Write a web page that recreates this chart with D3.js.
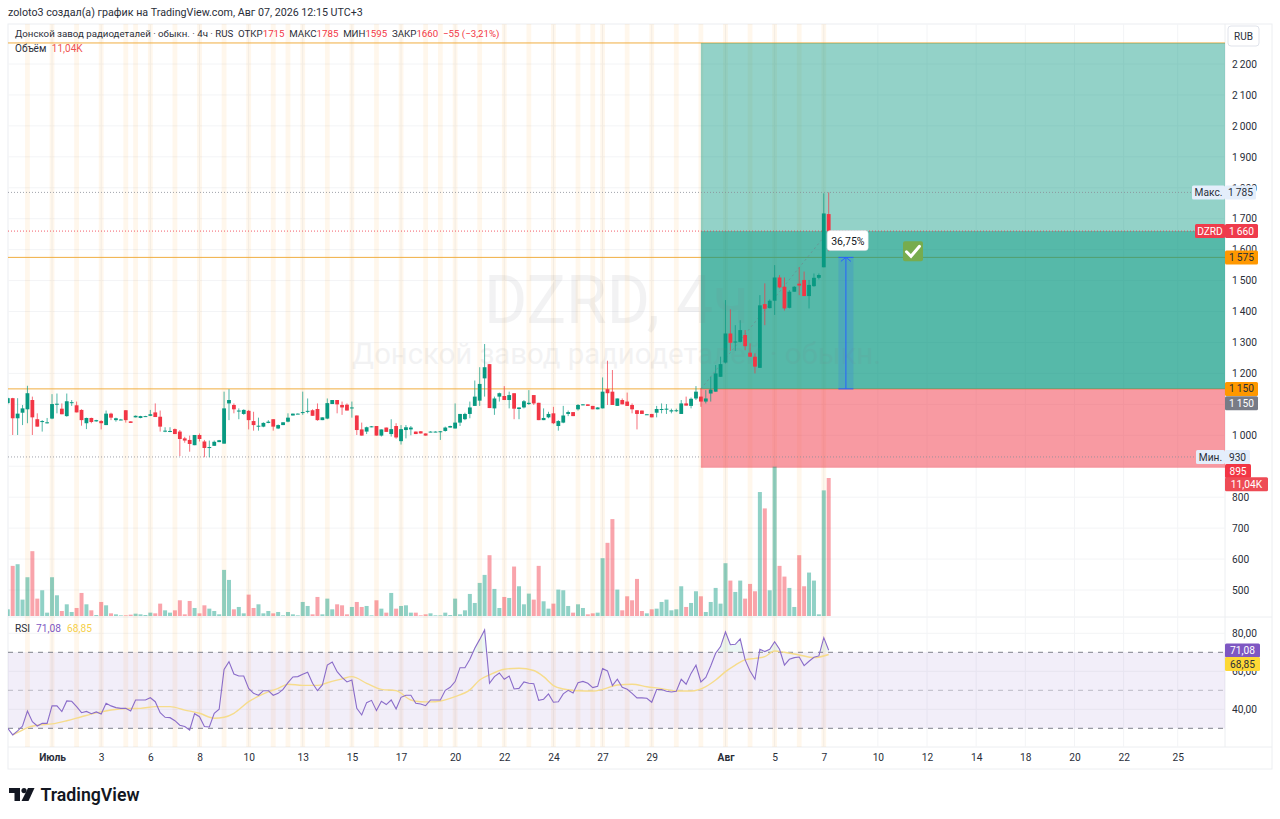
<!DOCTYPE html>
<html>
<head>
<meta charset="utf-8">
<script src="https://cdnjs.cloudflare.com/ajax/libs/d3/7.8.5/d3.min.js"></script>
<style>
    html, body { margin: 0; padding: 0; background: #fff; }
    svg { display: block; }
    text { font-family: Roboto, sans-serif; }
</style>
</head>
<body>
<div id="chart"></div>
<script>
'use strict'

// bars run from -1 (cut by the left edge) to 166
const firstBar = -1
const opens = [1104,1120,1055,1073,1084,1114,1052,1044,1041,1054,1101,1086,1062,1106,1097,1082,1039,1056,1045,1046,1033,1070,1049,1050,1081,1045,1058,1056,1061,1063,1074,1060,1012,1012,1020,1012,990,985,968,1001,980,961,966,978,973,1103,1098,1079,1069,1079,1046,1030,1028,1040,1052,1022,1033,1044,1064,1069,1073,1076,1081,1085,1049,1054,1101,1114,1098,1099,1087,1064,1019,1012,1027,1030,999,1025,1004,1030,981,1017,1019,1012,1013,1006,1011,1011,1012,1014,1025,1022,1041,1052,1069,1095,1112,1184,1230,1087,1125,1127,1114,1136,1085,1090,1101,1130,1105,1049,1058,1071,1030,1041,1069,1075,1084,1098,1100,1095,1084,1087,1149,1141,1095,1114,1109,1098,1081,1080,1068,1069,1073,1084,1084,1077,1079,1069,1103,1095,1119,1125,1109,1135,1141,1189,1235,1329,1300,1302,1324,1267,1254,1218,1424,1411,1435,1510,1480,1412,1464,1490,1502,1450,1482,1509,1543,1715]
const highs = [1122,1121,1120,1098,1160,1125,1071,1049,1056,1133,1135,1103,1135,1114,1109,1084,1057,1057,1050,1049,1080,1073,1057,1053,1081,1045,1064,1063,1063,1082,1103,1080,1026,1026,1022,1017,995,999,1001,1006,985,983,983,985,1141,1149,1103,1087,1084,1082,1076,1057,1042,1049,1052,1035,1042,1071,1070,1071,1141,1119,1084,1103,1058,1119,1114,1114,1109,1103,1109,1064,1041,1028,1030,1030,1019,1025,1052,1039,1033,1033,1030,1012,1013,1006,1013,1013,1014,1028,1031,1103,1069,1073,1109,1177,1220,1295,1230,1125,1138,1159,1141,1136,1090,1114,1146,1130,1105,1087,1076,1092,1049,1095,1080,1075,1101,1101,1100,1095,1091,1187,1241,1211,1119,1119,1138,1103,1081,1080,1069,1069,1095,1103,1101,1086,1086,1114,1125,1122,1159,1152,1146,1189,1227,1254,1437,1407,1356,1372,1340,1297,1265,1453,1491,1439,1550,1518,1510,1469,1482,1543,1529,1502,1523,1523,1782,1785]
const lows = [1100,1001,1001,1033,1039,1001,1028,1012,1038,1052,1071,1068,1060,1095,1074,1031,1020,1039,1044,1019,1033,1049,1044,1049,1041,1040,1058,1055,1060,1062,1059,1012,1010,1010,1004,933,976,947,968,980,929,929,966,978,973,1049,1071,1052,1066,1019,1015,1015,1026,1039,1015,1020,1033,1042,1064,1069,1066,1071,1063,1047,1049,1052,1101,1071,1066,1080,1057,1001,999,1004,1026,999,996,1011,996,989,970,990,1000,1004,1006,999,1010,1010,985,1012,1025,1022,1030,1049,1055,1095,1095,1125,1088,1066,1109,1114,1087,1052,1052,1087,1098,1098,1049,1049,1055,1036,1015,1039,1062,1062,1080,1097,1095,1084,1084,1087,1098,1098,1095,1100,1095,1071,1019,1069,1067,1058,1058,1071,1069,1071,1075,1069,1096,1087,1114,1092,1103,1109,1141,1189,1232,1273,1273,1300,1275,1254,1200,1218,1356,1410,1389,1475,1403,1410,1464,1453,1450,1410,1480,1504,1543,1595]
const closes = [1120,1055,1070,1087,1136,1058,1028,1046,1042,1101,1102,1068,1110,1107,1074,1049,1056,1043,1049,1039,1070,1057,1055,1051,1049,1040,1063,1062,1062,1068,1059,1028,1015,1014,1004,988,983,972,1001,988,959,962,979,984,1087,1114,1084,1080,1082,1049,1033,1031,1040,1044,1028,1033,1042,1057,1070,1070,1075,1079,1063,1049,1058,1104,1114,1100,1090,1080,1090,1017,999,1026,1029,999,1019,1011,1020,993,1020,1026,1025,1004,1006,999,1012,1012,1013,1025,1030,1041,1069,1069,1090,1125,1166,1220,1088,1119,1136,1114,1130,1086,1090,1110,1105,1103,1049,1056,1069,1039,1046,1064,1075,1062,1098,1100,1095,1084,1090,1141,1136,1098,1119,1100,1095,1084,1069,1069,1068,1058,1085,1085,1086,1081,1081,1103,1096,1118,1141,1109,1119,1148,1200,1230,1329,1299,1303,1340,1288,1254,1222,1420,1409,1435,1510,1478,1410,1464,1480,1484,1450,1486,1509,1518,1717,1660]

// volume in relative units measured on the pane, last bar is 11,04K
const volumes = [20,150,155,49,116,194,52,77,10,116,62,15,35,12,24,69,35,17,3,42,32,8,5,2,2,4,7,5,3,10,8,37,17,10,17,47,5,45,24,8,32,22,15,5,138,108,20,27,8,64,24,35,8,15,8,12,2,12,5,2,42,30,5,57,5,52,20,35,32,5,27,42,27,30,2,47,22,10,69,22,30,32,10,10,2,5,8,2,2,10,3,52,5,17,66,39,99,123,182,81,24,57,54,148,89,35,67,49,150,44,22,37,79,77,30,10,35,24,5,8,10,173,219,290,79,17,59,47,111,15,8,20,22,42,49,17,20,89,27,39,74,59,12,42,84,37,158,106,72,106,52,96,74,371,322,77,447,150,118,84,27,182,89,130,106,5,376,413]

const rsiValues = [30,26.5,28.6,31.2,39.1,33.5,31.2,32.6,32.6,41.8,41.8,38.8,44.4,44.2,41.4,38.2,38.9,37.7,38.6,37.5,43.2,41.8,40.9,40.5,40.5,39.1,44.9,44.9,44.9,46.1,44,38.2,35.8,35.6,34,31.6,30.9,29.1,37.7,36.1,30.9,30.7,37.9,40,61,65.1,58.6,57.5,57.5,51,48.4,47.4,49.8,49.8,47.4,48.4,50.5,54,57,57.2,58.4,59.5,53.7,49.8,52.8,63.3,64.9,59.8,56.8,54.4,55.4,40.5,37,43.5,44.7,39.3,44.2,42.5,44.9,40.2,46.3,47.4,47.4,43.2,42.8,41.9,44.9,44.9,44.9,50,51.6,54.6,61.9,61.9,66.3,72.1,76.8,81.8,53.7,57.2,59.1,55.8,57.5,50.7,51,54.4,53.7,53.5,44.7,45.3,48.1,43.7,44,48.1,50,48.6,54,54.7,53.7,51.4,52.1,61.4,60.2,52.5,55.8,51.6,50.5,48.4,46,46,45.8,43.7,50.4,50.4,49.5,49.1,49.5,55.8,53.2,58.9,63.2,54.4,56.8,62.8,69.5,73,80.7,74,74.2,77,66,60.2,55.8,71.6,70.4,71.6,75.6,71.6,63.3,66.3,67.2,67.5,63,65.3,67.4,68.1,77.7,71.08]

// RSI moving average, read at the bars where it bends
const rsiMaBars = [0,2,3,5,8,11,14,17,20,23,26,29,32,35,38,41,43,45,48,51,54,56,59,62,64,67,69,72,75,78,81,83,85,87,90,93,95,97,100,103,106,108,110,112,115,118,120,123,126,129,132,135,138,141,143,145,147,149,151,153,155,157,160,163,166]
const rsiMaValues = [26.5,29.1,30.4,31.6,32.3,34,36.1,38.1,39.6,40.4,40.5,41.4,41.4,39.6,37.9,35.3,35.8,37.9,44,48.1,51,53.2,52.6,52.6,54,56,57.2,53.7,50.5,49.8,44.9,44,43.9,44.4,46.7,50.2,55.4,58.1,61.1,61.6,60.4,57.2,52.5,50.7,49.8,49.6,50.5,52.8,53.2,51.9,50.9,49.6,49.6,51.9,55.4,59.8,63.3,66,66.8,67.7,70.7,70,68.6,67.2,68.85]

// sessions marked with the pale orange bands
const sessionBars = [3,8,13,18,23,25,28,33,38,43,48,53,56,59,64,69,74,79,84,87,90,95,100,105,110,115,118,120,125,130,135,140,145,150,155,160,165]

const timeTickBars = [8,18,28,38,48,59,69,79,90,100,110,120,130,145,155,165,176,186,196,206,216,226,237]
const timeTickLabels = ['Июль','3','6','8','10','13','15','17','20','22','24','27','29','Авг','5','7','10','12','14','18','20','22','25']
const boldTimeLabels = ['Июль','Авг']

const priceTicks = [2200,2100,2000,1900,1800,1700,1600,1500,1400,1300,1200,1100,1000,900,800,700,600,500]
// 1100 and 900 sit fully under the price tags, so they get a grid line only
const priceLabelTicks = [2200,2100,2000,1900,1800,1700,1600,1500,1400,1300,1200,1000,800,700,600,500]
const rsiTicks = [80,60,40]

// long position drawing and lines
const positionStartBar = 140
const targetPrice = 2268
const closePrice = 1660
const entryPrice = 1150
const stopPrice = 895
const levelPrices = [2268,1575,1150]
const maxPrice = 1785
const minPrice = 930
const arrowBar = 169.5
const arrowTopPrice = 1575

////////////////////////////////////
//////////// svg setup /////////////
////////////////////////////////////

const svgWidth = 1280
const svgHeight = 819
const pane = {left: 8, right: 1225, top: 24, volumeBottom: 616, rsiBottom: 747, bottom: 769, edge: 1272}

const svg = d3.select('#chart')
    .append('svg')
    .attr('width', svgWidth)
    .attr('height', svgHeight)

svg.append('clipPath').attr('id', 'plot')
    .append('rect')
    .attr('x', pane.left).attr('y', pane.top)
    .attr('width', pane.right - pane.left).attr('height', pane.rsiBottom - pane.top)

const ru = d3.formatLocale({decimal: ',', thousands: '\u2009', grouping: [3], currency: ['', '']})
const fmtPrice = ru.format(',')
const fmtRsi = ru.format('.2f')

////////////////////////////////////
//////////////scales////////////////
////////////////////////////////////

const xScale = d3.scaleLinear().domain([0, 166]).range([12.7, 828.7])
const yPrice = d3.scaleLinear().domain([2200, 500]).range([64, 590])
const yVolume = d3.scaleLinear().domain([0, 413]).range([pane.volumeBottom, 478])
const yRsi = d3.scaleLinear().domain([70, 30]).range([652.3, 728.3])

const upColor = '#089981'
const downColor = '#f23645'
const orange = '#f0ad40'

const bars = opens.map((o, i) => ({
    bar: firstBar + i, open: o, high: highs[i], low: lows[i], close: closes[i], volume: volumes[i], rsi: rsiValues[i]
}))
const barColor = d => d.close >= d.open ? upColor : downColor

////////////////////////////////////
//////////////frame/////////////////
////////////////////////////////////

const frame = svg.append('g').attr('fill', 'none').attr('stroke', '#eceef1')
frame.append('rect')
    .attr('x', pane.left).attr('y', pane.top)
    .attr('width', pane.edge - pane.left).attr('height', pane.bottom - pane.top)
frame.append('line').attr('x1', pane.right).attr('x2', pane.right).attr('y1', pane.top).attr('y2', pane.rsiBottom)
frame.append('line').attr('x1', pane.left).attr('x2', pane.edge).attr('y1', pane.rsiBottom).attr('y2', pane.rsiBottom)
frame.append('line').attr('x1', pane.left).attr('x2', pane.edge).attr('y1', pane.volumeBottom + 1).attr('y2', pane.volumeBottom + 1)

const plot = svg.append('g').attr('clip-path', 'url(#plot)')

// grid
plot.append('g').selectAll('line')
    .data(priceTicks)
    .join('line')
    .attr('x1', pane.left).attr('x2', pane.right)
    .attr('y1', d => yPrice(d)).attr('y2', d => yPrice(d))
    .attr('stroke', '#f3f4f6')
plot.append('g').selectAll('line')
    .data(rsiTicks)
    .join('line')
    .attr('x1', pane.left).attr('x2', pane.right)
    .attr('y1', d => yRsi(d)).attr('y2', d => yRsi(d))
    .attr('stroke', '#f3f4f6')
plot.append('g').selectAll('line')
    .data(timeTickBars)
    .join('line')
    .attr('x1', d => xScale(d)).attr('x2', d => xScale(d))
    .attr('y1', pane.top).attr('y2', pane.rsiBottom)
    .attr('stroke', '#f3f4f6')

// session bands
plot.append('g').selectAll('rect')
    .data(sessionBars)
    .join('rect')
    .attr('x', d => xScale(d) - 2.4)
    .attr('width', 4.8)
    .attr('y', pane.top)
    .attr('height', pane.rsiBottom - pane.top)
    .attr('fill', '#ff9800')
    .attr('opacity', 0.075)

// watermark
svg.append('text')
    .attr('x', (pane.left + pane.right) / 2).attr('y', 323)
    .attr('text-anchor', 'middle').attr('font-size', 66)
    .attr('fill', '#787b86').attr('opacity', 0.09)
    .text('DZRD, 4ч')
svg.append('text')
    .attr('x', (pane.left + pane.right) / 2).attr('y', 364)
    .attr('text-anchor', 'middle').attr('font-size', 29.3)
    .attr('fill', '#787b86').attr('opacity', 0.09)
    .text('Донской завод радиодеталей · обыкн.')

// level lines, under the position tool
plot.append('g').selectAll('line')
    .data(levelPrices)
    .join('line')
    .attr('x1', pane.left).attr('x2', pane.right)
    .attr('y1', d => yPrice(d)).attr('y2', d => yPrice(d))
    .attr('stroke', orange).attr('stroke-width', 1)

////////////////////////////////////
///////////position tool////////////
////////////////////////////////////

const posX = xScale(positionStartBar)
const posW = pane.right - posX

plot.append('rect')
    .attr('x', posX).attr('width', posW)
    .attr('y', yPrice(targetPrice)).attr('height', yPrice(entryPrice) - yPrice(targetPrice))
    .attr('fill', upColor).attr('opacity', 0.44)
plot.append('rect')
    .attr('x', posX).attr('width', posW)
    .attr('y', yPrice(closePrice)).attr('height', yPrice(entryPrice) - yPrice(closePrice))
    .attr('fill', upColor).attr('opacity', 0.44)
plot.append('rect')
    .attr('x', posX).attr('width', posW)
    .attr('y', yPrice(entryPrice)).attr('height', yPrice(stopPrice) - yPrice(entryPrice))
    .attr('fill', downColor).attr('opacity', 0.5)

plot.append('line')
    .attr('x1', pane.left).attr('x2', pane.right)
    .attr('y1', yPrice(closePrice)).attr('y2', yPrice(closePrice))
    .attr('stroke', downColor).attr('stroke-dasharray', '1,2').attr('opacity', 0.8)
plot.append('g').selectAll('line')
    .data([maxPrice, minPrice])
    .join('line')
    .attr('x1', pane.left).attr('x2', pane.right)
    .attr('y1', d => yPrice(d)).attr('y2', d => yPrice(d))
    .attr('stroke', '#8a8d98').attr('stroke-dasharray', '1,2').attr('opacity', 0.8)

// entry to close dashed line
plot.append('line')
    .attr('x1', posX).attr('y1', yPrice(entryPrice))
    .attr('x2', xScale(166)).attr('y2', yPrice(closePrice))
    .attr('stroke', '#787b86').attr('stroke-dasharray', '2,3').attr('opacity', 0.55)

////////////////////////////////////
////////////volume pane/////////////
////////////////////////////////////

plot.append('g').selectAll('rect')
    .data(bars)
    .join('rect')
    .attr('x', d => xScale(d.bar) - 2)
    .attr('width', 4)
    .attr('y', d => yVolume(d.volume))
    .attr('height', d => yVolume(0) - yVolume(d.volume))
    .attr('fill', barColor)
    .attr('opacity', 0.45)

////////////////////////////////////
//////////////candles///////////////
////////////////////////////////////

const candles = plot.append('g').selectAll('g')
    .data(bars)
    .join('g')

candles.append('line')
    .attr('x1', d => xScale(d.bar)).attr('x2', d => xScale(d.bar))
    .attr('y1', d => yPrice(d.high)).attr('y2', d => yPrice(d.low))
    .attr('stroke', barColor)
    .attr('stroke-opacity', 0.7)

candles.append('rect')
    .attr('x', d => xScale(d.bar) - 1.9)
    .attr('width', 3.8)
    .attr('y', d => yPrice(Math.max(d.open, d.close)))
    .attr('height', d => Math.max(1, Math.abs(yPrice(d.open) - yPrice(d.close))))
    .attr('fill', barColor)

////////////////////////////////////
/////////////rsi pane///////////////
////////////////////////////////////

plot.append('rect')
    .attr('x', pane.left).attr('width', pane.right - pane.left)
    .attr('y', yRsi(70)).attr('height', yRsi(30) - yRsi(70))
    .attr('fill', '#7e57c2').attr('opacity', 0.1)

plot.append('g').selectAll('line')
    .data([70, 50, 30])
    .join('line')
    .attr('x1', pane.left).attr('x2', pane.right)
    .attr('y1', d => yRsi(d)).attr('y2', d => yRsi(d))
    .attr('stroke', '#787b86')
    .attr('stroke-opacity', d => d === 50 ? 0.45 : 0.95)
    .attr('stroke-dasharray', '5,5')

// overbought fill
svg.append('clipPath').attr('id', 'overbought')
    .append('rect')
    .attr('x', pane.left).attr('y', pane.volumeBottom)
    .attr('width', pane.right - pane.left).attr('height', yRsi(70) - pane.volumeBottom)
plot.append('path')
    .datum(bars)
    .attr('clip-path', 'url(#overbought)')
    .attr('d', d3.area().x(d => xScale(d.bar)).y0(yRsi(70)).y1(d => yRsi(d.rsi)))
    .attr('fill', '#089981').attr('opacity', 0.08)

plot.append('path')
    .datum(rsiMaBars.map((b, i) => [b, rsiMaValues[i]]))
    .attr('d', d3.line().x(d => xScale(d[0])).y(d => yRsi(d[1])).curve(d3.curveMonotoneX))
    .attr('fill', 'none').attr('stroke', '#f6dc8c').attr('stroke-width', 1.4)

plot.append('path')
    .datum(bars)
    .attr('d', d3.line().x(d => xScale(d.bar)).y(d => yRsi(d.rsi)))
    .attr('fill', 'none').attr('stroke', '#8a6cc9').attr('stroke-width', 1.1)

////////////////////////////////////
//////////////arrow/////////////////
////////////////////////////////////

const arrowX = xScale(arrowBar)
svg.append('rect')
    .attr('x', arrowX - 7.5).attr('width', 15)
    .attr('y', yPrice(arrowTopPrice)).attr('height', yPrice(entryPrice) - yPrice(arrowTopPrice))
    .attr('fill', '#2962ff').attr('opacity', 0.17)
svg.append('line')
    .attr('x1', arrowX).attr('x2', arrowX)
    .attr('y1', yPrice(arrowTopPrice)).attr('y2', yPrice(entryPrice))
    .attr('stroke', '#2962ff').attr('stroke-width', 1)
svg.append('g').selectAll('line')
    .data([arrowTopPrice, entryPrice])
    .join('line')
    .attr('x1', arrowX - 7.5).attr('x2', arrowX + 7.5)
    .attr('y1', d => yPrice(d)).attr('y2', d => yPrice(d))
    .attr('stroke', '#2962ff').attr('stroke-width', 1)
svg.append('path')
    .attr('d', `M${arrowX - 5},${yPrice(arrowTopPrice) + 4}L${arrowX},${yPrice(arrowTopPrice)}L${arrowX + 5},${yPrice(arrowTopPrice) + 4}`)
    .attr('fill', 'none').attr('stroke', '#2962ff').attr('stroke-width', 1)

// profit label
const profitLabel = svg.append('g').attr('transform', `translate(${xScale(166) - 1.5},${yPrice(closePrice) - 0.5})`)
profitLabel.append('rect')
    .attr('width', 41).attr('height', 20).attr('rx', 3)
    .attr('fill', '#fff').attr('stroke', '#d8dae0').attr('stroke-width', 0.5)
profitLabel.append('text')
    .attr('x', 4).attr('y', 14).attr('font-size', 10.5).attr('fill', '#131722')
    .text('36,75%')

// check badge
const badge = svg.append('g').attr('transform', `translate(903,${yPrice(1627)})`)
badge.append('rect')
    .attr('width', 20).attr('height', 20).attr('rx', 2)
    .attr('fill', '#77ac4e')
badge.append('path')
    .attr('d', 'M3.5,10.5L8,15L16.5,5')
    .attr('fill', 'none').attr('stroke', '#fff').attr('stroke-width', 3).attr('stroke-linecap', 'round')

////////////////////////////////////
//////////////axes//////////////////
////////////////////////////////////

const axisFont = 10.2

const priceAxis = svg.append('g')
    .attr('transform', `translate(${pane.right},0)`)
    .call(d3.axisRight(yPrice).tickValues(priceLabelTicks).tickFormat(fmtPrice).tickSize(0).tickPadding(7))
const rsiAxis = svg.append('g')
    .attr('transform', `translate(${pane.right},0)`)
    .call(d3.axisRight(yRsi).tickValues(rsiTicks).tickFormat(fmtRsi).tickSize(0).tickPadding(7))
const timeAxis = svg.append('g')
    .attr('transform', `translate(0,${pane.rsiBottom})`)
    .call(d3.axisBottom(xScale).tickValues(timeTickBars)
        .tickFormat((d, i) => timeTickLabels[i]).tickSize(0).tickPadding(7))

;[priceAxis, rsiAxis, timeAxis].forEach(a => {
    a.select('.domain').remove()
    a.selectAll('text')
        .attr('font-size', axisFont)
        .attr('fill', '#2a2e39')
})
timeAxis.selectAll('text')
    .attr('font-weight', (d, i) => boldTimeLabels.includes(timeTickLabels[i]) ? 700 : 400)

// currency box
svg.append('rect')
    .attr('x', 1228).attr('y', 26).attr('width', 31).attr('height', 20).attr('rx', 3)
    .attr('fill', '#fff').attr('stroke', '#e0e3eb')
svg.append('text')
    .attr('x', 1243.5).attr('y', 40).attr('text-anchor', 'middle')
    .attr('font-size', 10).attr('fill', '#2a2e39').text('RUB')

////////////////////////////////////
//////////////tags//////////////////
////////////////////////////////////

function tag(text, x, yCenter, width, fill, color) {
    svg.append('rect')
        .attr('x', x).attr('y', yCenter - 7)
        .attr('width', width).attr('height', 14)
        .attr('rx', 1.5).attr('fill', fill)
    svg.append('text')
        .attr('x', x + width / 2).attr('y', yCenter + 3.6)
        .attr('text-anchor', 'middle')
        .attr('font-size', axisFont).attr('fill', color)
        .text(text)
}

const paleTag = '#e4eefb'
tag('Макс.', 1192, yPrice(maxPrice), 33, paleTag, '#2a2e39')
tag(fmtPrice(maxPrice), pane.right, yPrice(maxPrice), 31, paleTag, '#2a2e39')
tag('DZRD', 1195, yPrice(closePrice), 30, '#ef3b4c', '#fff')
tag(fmtPrice(closePrice), pane.right, yPrice(closePrice), 33, '#ef3b4c', '#fff')
tag(fmtPrice(1575), pane.right, yPrice(1575), 33, '#ff9800', '#2a2e39')
tag(fmtPrice(entryPrice), pane.right, yPrice(entryPrice), 33, '#ff9800', '#2a2e39')
tag(fmtPrice(entryPrice), pane.right, yPrice(entryPrice) + 14.3, 33, '#787b86', '#fff')
tag('Мин.', 1196, yPrice(minPrice), 29, paleTag, '#2a2e39')
tag(fmtPrice(minPrice), pane.right, yPrice(minPrice), 25, paleTag, '#2a2e39')
tag(fmtPrice(stopPrice), pane.right, yPrice(stopPrice) + 3.2, 26, '#f23645', '#fff')
tag('11,04K', pane.right, yPrice(stopPrice) + 16.4, 43, '#ee4b55', '#fff')
tag('71,08', pane.right, yRsi(71.08) + 0.3, 35, '#7e57c2', '#fff')
tag('68,85', pane.right, yRsi(68.85) + 9.5, 35, '#fdd835', '#2a2e39')

////////////////////////////////////
/////////////legends////////////////
////////////////////////////////////

svg.append('text')
    .attr('x', 8).attr('y', 15.5)
    .attr('font-size', 10.7).attr('fill', '#2a2e39')
    .text('zoloto3 создал(а) график на TradingView.com, Авг 07, 2026 12:15 UTC+3')

const red = '#f23645'
const legendLine = svg.append('text')
    .attr('x', 15).attr('y', 37)
    .attr('font-size', 9.7).attr('fill', '#2a2e39')
const legendParts = [
    ['Донской завод радиодеталей · обыкн. · 4ч · RUS  ОТКР'], ['1715', red], ['  МАКС'], ['1785', red],
    ['  МИН'], ['1595', red], ['  ЗАКР'], ['1660', red], ['  −55 (−3,21%)', red]
]
legendParts.forEach(p => {
    legendLine.append('tspan')
        .attr('fill', p[1] || '#2a2e39')
        .style('white-space', 'pre')
        .text(p[0])
})

const volLegend = svg.append('text')
    .attr('x', 15).attr('y', 52).attr('font-size', 10).attr('fill', '#2a2e39')
volLegend.append('tspan').text('Объём ')
volLegend.append('tspan').attr('fill', '#ef5350').attr('dx', 3).text('11,04K')

const rsiLegend = svg.append('text')
    .attr('x', 15).attr('y', 632).attr('font-size', 10.2).attr('fill', '#2a2e39')
rsiLegend.append('tspan').text('RSI')
rsiLegend.append('tspan').attr('dx', 6).attr('fill', '#7e57c2').text('71,08')
rsiLegend.append('tspan').attr('dx', 6).attr('fill', '#f5cf4a').text('68,85')

////////////////////////////////////
//////////////logo//////////////////
////////////////////////////////////

const logo = svg.append('g').attr('transform', 'translate(9,788)').attr('fill', '#131722')
logo.append('path').attr('d', 'M0,0H11V13H5.5V5H0Z')
logo.append('circle').attr('cx', 15).attr('cy', 2.6).attr('r', 2.6)
logo.append('path').attr('d', 'M19,0H25.5L19.5,13H12.5Z')
svg.append('text')
    .attr('x', 40.5).attr('y', 801)
    .attr('font-size', 17.7).attr('font-weight', 600).attr('fill', '#131722')
    .text('TradingView')
</script>
</body>
</html>
